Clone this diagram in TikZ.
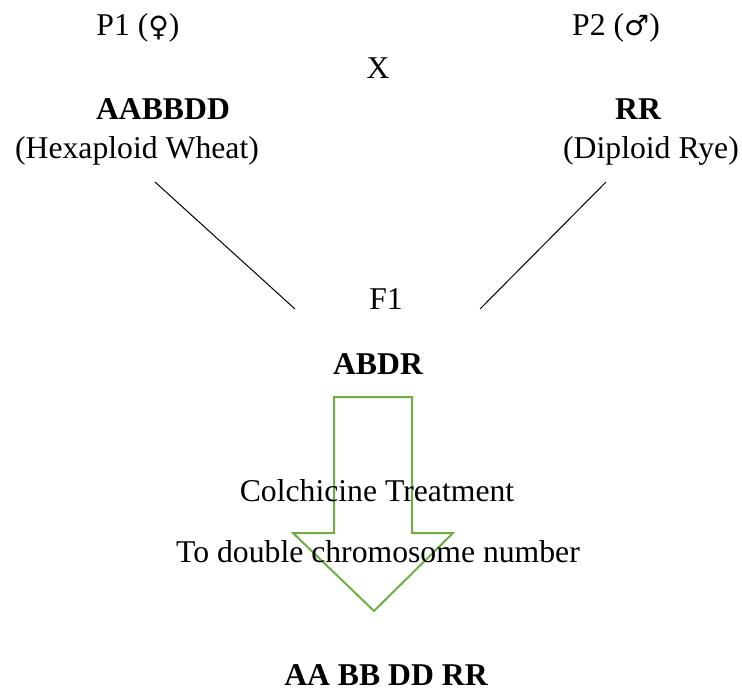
\documentclass[tikz,border=0pt]{standalone}
\usepackage{fontspec}
\setmainfont{Liberation Serif}
\newfontfamily\symfont{DejaVu Sans}
\definecolor{arrowgreen}{HTML}{70AD47}
\begin{document}
\begin{tikzpicture}[x=1pt,y=-1pt,
  lbl/.style={anchor=base,inner sep=0pt,font=\fontsize{31.7}{38}\selectfont},
  blbl/.style={lbl,font=\fontsize{31.7}{38}\selectfont\bfseries},
  link/.style={draw=black,line width=1pt},
  bigarrow/.style={draw=arrowgreen,line width=2pt,line join=miter}]
\useasboundingbox (0,0) rectangle (742,693);
% arrow (behind text)
\draw[bigarrow] (334,397) -- (412,397) -- (412,533) -- (453,533) -- (374,611)
  -- (293,533) -- (334,533) -- cycle;
% texts
\node[lbl] (p1) at (138,36) {P1 ({\symfont\fontsize{28}{32}\selectfont\raisebox{-1pt}{♀}})};
\node[lbl] (p2) at (616,36) {P2 ({\symfont\fontsize{28}{32}\selectfont ♂})};
\node[lbl] (x) at (378,78) {X};
\node[blbl] (aabbdd) at (163,120) {AABBDD};
\node[lbl] (wheat) at (137,158) {(Hexaploid Wheat)};
\node[blbl] (rr) at (638,120) {RR};
\node[lbl] (rye) at (651,158) {(Diploid Rye)};
\node[lbl] (f1) at (386,309) {F1};
\node[blbl] (abdr) at (378,374) {ABDR};
\node[lbl] (colch) at (377,501) {Colchicine Treatment};
\node[lbl] (double) at (378,562) {To double chromosome number};
\node[blbl] (final) at (386,685) {AA BB DD RR};
% crossing lines
\coordinate (lstart) at (155,182);
\coordinate (lend) at (295,309);
\coordinate (rstart) at (606,182);
\coordinate (rend) at (480,309);
\draw[link] (lstart) -- (lend);
\draw[link] (rstart) -- (rend);
\end{tikzpicture}
\end{document}
